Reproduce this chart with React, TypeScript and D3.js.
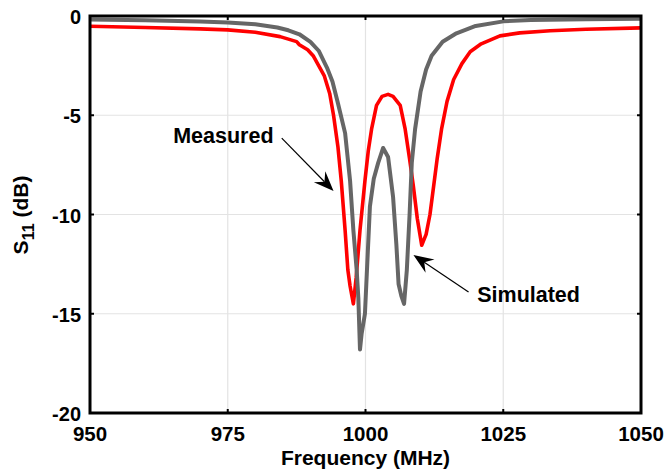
import React, { useRef, useEffect } from "react";
import * as d3 from "d3";

// simulated S11 (gray)
const simFreq = [950, 960, 970, 975, 980, 984, 986, 988, 990, 991.5, 993, 994, 995, 996.3, 997.2, 997.8, 998.4, 998.7, 999, 999.3, 999.9, 1000.4, 1000.8, 1001.5, 1002.3, 1003.2, 1004.1, 1005, 1005.6, 1006, 1006.5, 1007, 1007.5, 1008, 1008.4, 1009, 1010, 1011, 1012, 1014, 1016.5, 1020, 1025, 1030, 1040, 1050];
const simDb = [-0.18, -0.22, -0.28, -0.33, -0.42, -0.58, -0.72, -0.92, -1.3, -1.75, -2.6, -3.3, -4.4, -5.9, -8.3, -10.8, -12.8, -14.2, -16.8, -16.0, -15.0, -12.0, -9.6, -8.2, -7.4, -6.65, -7.1, -9.1, -11.5, -13.5, -14.1, -14.5, -12.8, -10.0, -7.4, -5.7, -3.8, -2.7, -2.0, -1.3, -0.87, -0.5, -0.27, -0.2, -0.16, -0.14];

// measured S11 (red)
const measFreq = [950, 960, 970, 975, 980, 984.5, 987.5, 988, 989.5, 990.5, 991.5, 992.5, 993.5, 994.2, 995, 995.6, 996.3, 996.8, 997.2, 997.8, 998.3, 999, 999.9, 1000.5, 1001.1, 1002, 1003, 1004.1, 1005, 1006.3, 1007.2, 1008, 1008.7, 1009.4, 1010.2, 1011, 1011.7, 1012.4, 1013, 1013.8, 1014.8, 1016, 1017.5, 1019, 1021, 1024.4, 1028, 1033.5, 1040, 1050];
const measDb = [-0.52, -0.58, -0.65, -0.7, -0.82, -1.04, -1.29, -1.45, -1.7, -2.0, -2.5, -3.0, -3.9, -5.0, -6.6, -8.3, -10.8, -12.8, -13.6, -14.5, -13.2, -10.8, -8.3, -6.8, -5.7, -4.5, -4.05, -3.95, -4.05, -4.5, -5.7, -7.2, -8.6, -10.2, -11.55, -11.0, -10.0, -8.5, -7.2, -5.7, -4.3, -3.2, -2.4, -1.8, -1.4, -1.0, -0.85, -0.74, -0.67, -0.6];

const xTicks = [950, 975, 1000, 1025, 1050];
const yTicks = [0, -5, -10, -15, -20];

// annotations, in data units: label position, then arrow start -> arrow tip
const annLabels = ["Measured", "Simulated"];
const annText = [[974.2, -6.4], [1029.6, -14.4]];
const annArrow = [[984.8, -6.15, 994.2, -8.82], [1018.7, -13.9, 1008.7, -12.04]];

const W = 668, H = 472;
const margin = { top: 16, right: 27, bottom: 59, left: 90 };
const font = "'Liberation Sans', Arial, sans-serif";

export default function App() {
  const svgRef = useRef<SVGSVGElement>(null);

  useEffect(() => {
    const svg = d3.select(svgRef.current);
    svg.selectAll("*").remove();
    const width = W - margin.left - margin.right;
    const height = H - margin.top - margin.bottom;

    const x = d3.scaleLinear().domain([950, 1050]).range([0, width]);
    const y = d3.scaleLinear().domain([-20, 0]).range([height, 0]);

    svg.append("rect").attr("width", W).attr("height", H).attr("fill", "#fff");
    const g = svg.append("g").attr("transform", `translate(${margin.left},${margin.top})`);

    // grid
    g.append("g").selectAll("line").data(xTicks.slice(1, -1)).join("line")
      .attr("x1", d => x(d)).attr("x2", d => x(d)).attr("y1", 0).attr("y2", height)
      .attr("stroke", "#e3e3e3").attr("stroke-width", 1.2);
    g.append("g").selectAll("line").data(yTicks.slice(1, -1)).join("line")
      .attr("y1", d => y(d)).attr("y2", d => y(d)).attr("x1", 0).attr("x2", width)
      .attr("stroke", "#e3e3e3").attr("stroke-width", 1.2);

    const path = (fs: number[], ds: number[]) =>
      d3.line<[number, number]>().x(d => x(d[0])).y(d => y(d[1]))(fs.map((f, i) => [f, ds[i]] as [number, number]));

    g.append("path").attr("d", path(measFreq, measDb)).attr("fill", "none")
      .attr("stroke", "#ff0000").attr("stroke-width", 3.6).attr("stroke-linejoin", "round");
    g.append("path").attr("d", path(simFreq, simDb)).attr("fill", "none")
      .attr("stroke", "#666666").attr("stroke-width", 4).attr("stroke-linejoin", "round");

    // box + inward ticks
    g.append("rect").attr("width", width).attr("height", height).attr("fill", "none")
      .attr("stroke", "#000").attr("stroke-width", 3);
    const tl = 4;
    xTicks.forEach(t => {
      g.append("line").attr("x1", x(t)).attr("x2", x(t)).attr("y1", height).attr("y2", height - tl).attr("stroke", "#000").attr("stroke-width", 2);
      g.append("line").attr("x1", x(t)).attr("x2", x(t)).attr("y1", 0).attr("y2", tl).attr("stroke", "#000").attr("stroke-width", 2);
    });
    yTicks.forEach(t => {
      g.append("line").attr("y1", y(t)).attr("y2", y(t)).attr("x1", 0).attr("x2", tl).attr("stroke", "#000").attr("stroke-width", 2);
      g.append("line").attr("y1", y(t)).attr("y2", y(t)).attr("x1", width).attr("x2", width - tl).attr("stroke", "#000").attr("stroke-width", 2);
    });

    // tick labels
    g.append("g").selectAll("text").data(xTicks).join("text")
      .attr("x", d => x(d)).attr("y", height + 28)
      .attr("text-anchor", "middle").attr("font-family", font).attr("font-weight", "bold").attr("font-size", 20.5)
      .text(d => d);
    g.append("g").selectAll("text").data(yTicks).join("text")
      .attr("x", -9).attr("y", d => y(d) + 8)
      .attr("text-anchor", "end").attr("font-family", font).attr("font-weight", "bold").attr("font-size", 20)
      .text(d => d);

    // axis labels
    svg.append("text").attr("x", margin.left + width / 2).attr("y", 465)
      .attr("text-anchor", "middle").attr("font-family", font).attr("font-weight", "bold").attr("font-size", 21)
      .text("Frequency (MHz)");
    const yl = svg.append("text").attr("transform", "translate(28,215) rotate(-90)")
      .attr("text-anchor", "middle").attr("font-family", font).attr("font-weight", "bold").attr("font-size", 21);
    yl.append("tspan").text("S");
    yl.append("tspan").attr("font-size", 16).attr("dy", 6).text("11");
    yl.append("tspan").attr("dy", -6).text(" (dB)");

    // annotations with notched arrowheads
    annLabels.forEach((lab, i) => {
      g.append("text").attr("x", x(annText[i][0])).attr("y", y(annText[i][1]))
        .attr("text-anchor", "middle").attr("font-family", font).attr("font-weight", "bold").attr("font-size", 21.5)
        .text(lab);
      const [f0, d0, f1, d1] = annArrow[i];
      const x0 = x(f0), y0 = y(d0), x1 = x(f1), y1 = y(d1);
      const len = Math.hypot(x1 - x0, y1 - y0);
      const ux = (x1 - x0) / len, uy = (y1 - y0) / len;
      const px = -uy, py = ux;
      const hl = 20, hw = 8, notch = 13;
      g.append("line").attr("x1", x0).attr("y1", y0)
        .attr("x2", x1 - ux * notch).attr("y2", y1 - uy * notch)
        .attr("stroke", "#000").attr("stroke-width", 1.2);
      const pts = [
        [x1, y1],
        [x1 - ux * hl + px * hw, y1 - uy * hl + py * hw],
        [x1 - ux * notch, y1 - uy * notch],
        [x1 - ux * hl - px * hw, y1 - uy * hl - py * hw],
      ];
      g.append("path").attr("d", "M" + pts.map(p => p.join(",")).join("L") + "Z").attr("fill", "#000");
    });
  }, []);

  return (
    <svg ref={svgRef} width={W} height={H} style={{ position: "absolute", left: 0, top: 0, display: "block" }} />
  );
}
